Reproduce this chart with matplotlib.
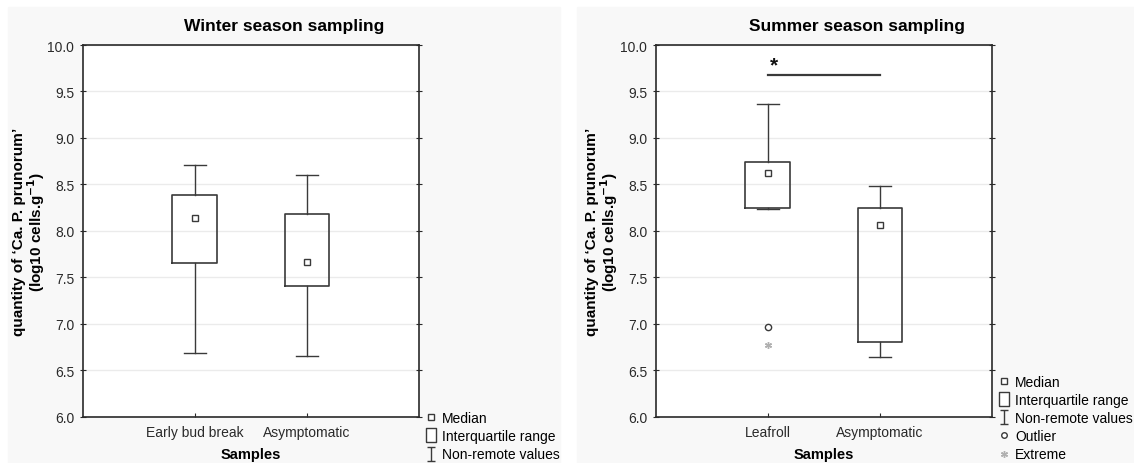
#!/usr/bin/env python3
"""
Box plots of 'Ca. P. prunorum' quantity for winter and summer sampling
(STATISTICA style: median square, IQR box, non-remote whiskers)
"""

import matplotlib
matplotlib.use("Agg")
import matplotlib.pyplot as plt
from matplotlib.lines import Line2D
from matplotlib.patches import Rectangle
from matplotlib.path import Path

plt.rcParams['font.family'] = ['Liberation Sans', 'DejaVu Sans']

# Winter season data (log10 cells/g)
winter_labels = ['Early bud break', 'Asymptomatic']
winter_median = [8.14, 7.66]
winter_q1 = [7.65, 7.40]
winter_q3 = [8.39, 8.18]
winter_whislo = [6.68, 6.65]
winter_whishi = [8.71, 8.60]

# Summer season data
summer_labels = ['Leafroll', 'Asymptomatic']
summer_median = [8.62, 8.06]
summer_q1 = [8.25, 6.80]
summer_q3 = [8.74, 8.25]
summer_whislo = [8.23, 6.64]
summer_whishi = [9.37, 8.48]
summer_outlier = [6.96]      # Leafroll
summer_extreme = [6.77]      # Leafroll
signif_y = 9.675

DARK = '#3a3a3a'
YLABEL = 'quantity of \u2018Ca. P. prunorum\u2019\n(log10 cells.g$^{\\mathbf{-1}}$)'


def make_stats(labels, med, q1, q3, lo, hi):
    stats = []
    for i in range(len(labels)):
        stats.append(dict(label=labels[i], med=med[i], q1=q1[i], q3=q3[i],
                          whislo=lo[i], whishi=hi[i], fliers=[]))
    return stats


def draw_panel(ax, stats, medians, legend_handles):
    pos = [1, 2]
    ax.bxp(stats, positions=pos, widths=0.4, capwidths=0.19, showfliers=False,
           boxprops=dict(color=DARK, linewidth=1.2),
           whiskerprops=dict(color=DARK, linewidth=1.0),
           capprops=dict(color=DARK, linewidth=1.0),
           medianprops=dict(linewidth=0))
    ax.plot(pos, medians, 's', ms=4.5, mfc='white', mec=DARK, mew=1.0, zorder=5)

    ax.set_xlim(0, 3)
    ax.set_ylim(6.0, 10.0)
    ax.set_yticks([6.0, 6.5, 7.0, 7.5, 8.0, 8.5, 9.0, 9.5, 10.0])
    ax.set_yticklabels(['%.1f' % v for v in ax.get_yticks()])
    ax.set_xticks(pos)
    ax.set_xticklabels([s['label'] for s in stats])
    ax.grid(axis='y', color='#ebebeb', linewidth=1.0)
    ax.set_axisbelow(True)
    for sp in ax.spines.values():
        sp.set_color('#2a2a2a')
        sp.set_linewidth(1.2)
    ax.tick_params(axis='y', direction='inout', length=4, right=True,
                   labelsize=10, colors='#2a2a2a', pad=4)
    ax.tick_params(axis='x', direction='in', length=3, labelsize=10,
                   colors='#2a2a2a', pad=6)

    ax.set_xlabel('Samples', fontsize=10.5, fontweight='bold', labelpad=6)
    ax.set_ylabel(YLABEL, fontsize=11, fontweight='bold', va='center',
                  linespacing=1.0)
    ax.yaxis.set_label_coords(-0.158, 0.5)

    ax.legend(handles=legend_handles, loc='lower left',
              bbox_to_anchor=(1.015, -0.121), frameon=False, fontsize=10,
              handlelength=1.0, handletextpad=0.3, labelspacing=0.3,
              borderpad=0, borderaxespad=0)


# custom legend symbols
iqr_marker = Path([(-0.75, -1), (0.75, -1), (0.75, 1), (-0.75, 1), (-0.75, -1)])
whisk_marker = Path([(-0.6, 1), (0.6, 1), (0, 1), (0, -1), (-0.6, -1), (0.6, -1)],
                    [Path.MOVETO, Path.LINETO, Path.MOVETO, Path.LINETO,
                     Path.MOVETO, Path.LINETO])
h_median = Line2D([], [], ls='none', marker='s', ms=4, mfc='white', mec=DARK,
                  label='Median')
h_iqr = Line2D([], [], ls='none', marker=iqr_marker, ms=10, mfc='white', mec=DARK,
               mew=1.0, label='Interquartile range')
h_whisk = Line2D([], [], ls='none', marker=whisk_marker, ms=10, mfc='none',
                 mec=DARK, mew=1.0, label='Non-remote values')
h_out = Line2D([], [], ls='none', marker='o', ms=4, mfc='white', mec=DARK,
               label='Outlier')
h_ext = Line2D([], [], ls='none', marker=(6, 2, 0), ms=5, mec='#b0b0b0',
               label='Extreme')

fig = plt.figure(figsize=(11.34, 4.64), dpi=100, facecolor='white')

# light grey panel backgrounds (two separate pictures side by side)
fig.patches.append(Rectangle((8 / 1134, 0), 552 / 1134, 456 / 464,
                             transform=fig.transFigure, color='#f8f8f8', zorder=-10))
fig.patches.append(Rectangle((577 / 1134, 0), 557 / 1134, 456 / 464,
                             transform=fig.transFigure, color='#f8f8f8', zorder=-10))

ax1 = fig.add_axes([0.0729, 0.1002, 0.2968, 0.8006])
ax2 = fig.add_axes([0.5782, 0.1002, 0.2968, 0.8006])

draw_panel(ax1, make_stats(winter_labels, winter_median, winter_q1, winter_q3,
                           winter_whislo, winter_whishi),
           winter_median, [h_median, h_iqr, h_whisk])
draw_panel(ax2, make_stats(summer_labels, summer_median, summer_q1, summer_q3,
                           summer_whislo, summer_whishi),
           summer_median, [h_median, h_iqr, h_whisk, h_out, h_ext])

ax2.plot([1] * len(summer_outlier), summer_outlier, 'o', ms=4.5, mfc='white',
         mec=DARK, mew=1.0, zorder=5)
ax2.plot([1] * len(summer_extreme), summer_extreme, ls='none', marker=(6, 2, 0),
         ms=5, mec='#b0b0b0', zorder=5)

# significance bar between Leafroll and Asymptomatic
ax2.plot([1, 2], [signif_y, signif_y], color=DARK, linewidth=1.6)
ax2.text(1.05, signif_y + 0.01, '*', ha='center', va='bottom', fontsize=15,
         fontweight='bold', color='#111')

fig.text(284 / 1134, 1 - 27 / 464, 'Winter season sampling', ha='center',
         va='center', fontsize=12.5, fontweight='bold')
fig.text(857 / 1134, 1 - 27 / 464, 'Summer season sampling', ha='center',
         va='center', fontsize=12.5, fontweight='bold')

fig.savefig('out.png', dpi=100, facecolor='white')
